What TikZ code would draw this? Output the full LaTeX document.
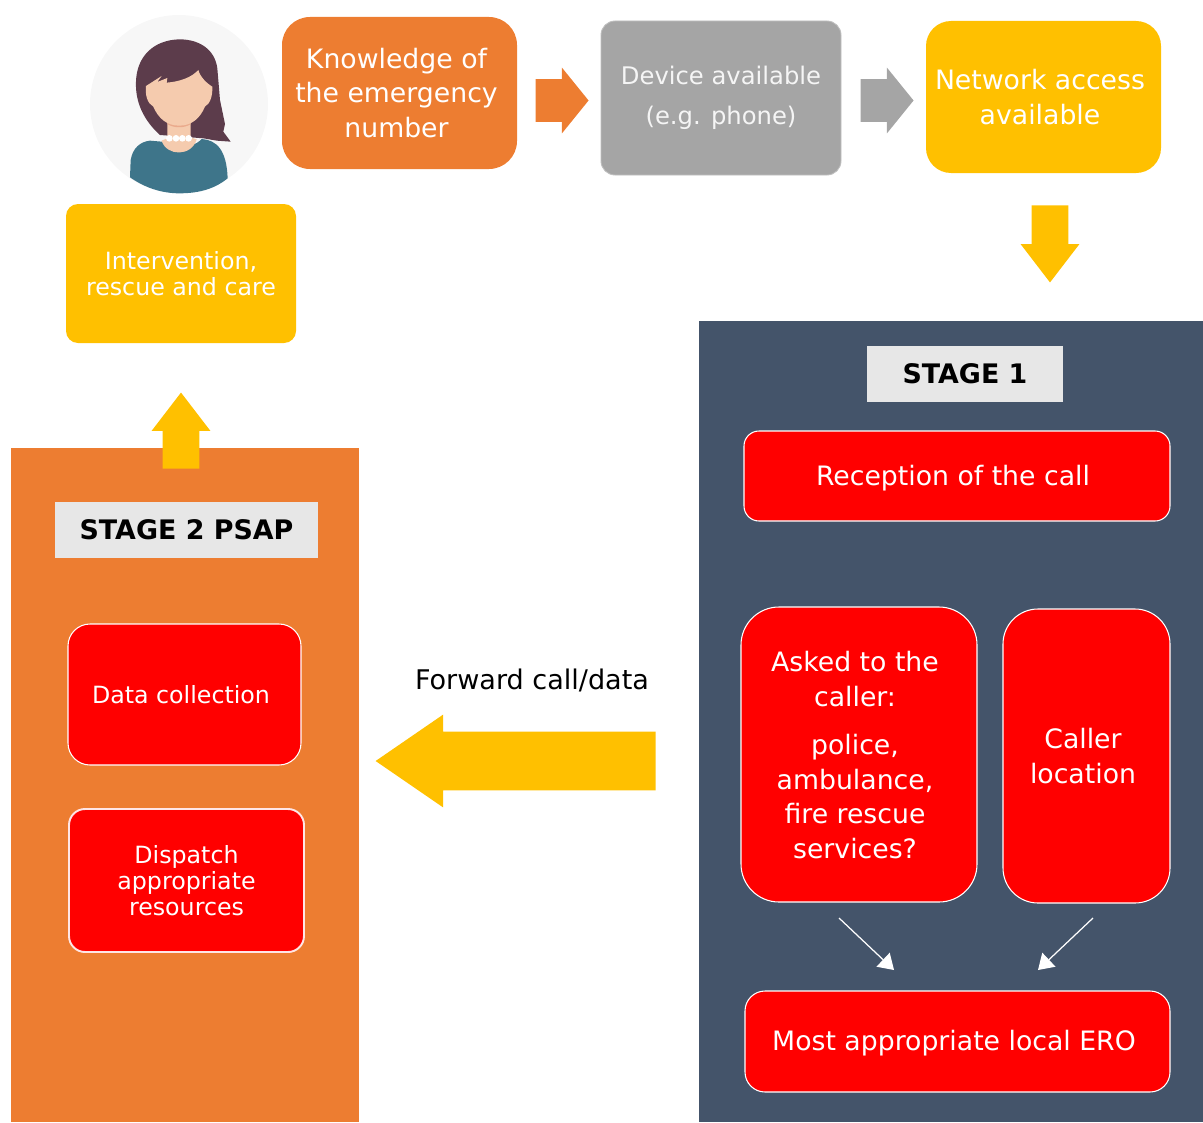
\documentclass[tikz,border=0pt]{standalone}
\usepackage{fontspec}
\setmainfont{DejaVu Sans}
\usetikzlibrary{arrows.meta,shapes.arrows}
\definecolor{orangefill}{HTML}{ED7D31}
\definecolor{yellowfill}{HTML}{FFC000}
\definecolor{slatefill}{HTML}{44546A}
\definecolor{grayfill}{HTML}{A5A5A5}
\definecolor{labelfill}{HTML}{E7E7E7}
\definecolor{hairfill}{RGB}{92,60,75}
\definecolor{shirtfill}{RGB}{62,117,138}
\definecolor{skinfill}{RGB}{245,203,174}
\definecolor{shadefill}{RGB}{234,170,140}
\newcommand{\px}{0.02cm}
\tikzset{
  box/.style={rounded corners=#1*\px, inner sep=0pt},
  redbox/.style={box=#1, fill=red, draw=white, line width=0.6pt},
  panel/.style={inner sep=0pt, anchor=north west},
  stagelabel/.style={fill=labelfill, inner sep=0pt, font=\fontsize{15.3}{19}\selectfont\bfseries},
  txt/.style={text=white, align=center, inner sep=0pt, font=\fontsize{15.2}{19.7}\selectfont},
  tighttxt/.style={text=white, align=center, inner sep=0pt, font=\fontsize{13.5}{14.8}\selectfont},
  blockarrow/.style={single arrow, single arrow head indent=0pt, inner sep=0pt, anchor=tip, fill=#1},
  sidearrow/.style={blockarrow=#1, inner ysep=21*\px, minimum height=53*\px, single arrow head extend=11.5*\px, single arrow tip angle=102},
  uparrow/.style={blockarrow=yellowfill, inner xsep=18*\px, single arrow head extend=11*\px, single arrow tip angle=75},
  thinarrow/.style={draw=white, line width=0.7pt, -{Triangle[length=15*\px, width=19*\px]}}
}
\begin{document}
\begin{tikzpicture}[x=\px, y=-\px]
\useasboundingbox (0,0) rectangle (1203,1122);
%panels
\node[panel, fill=slatefill, minimum width=504*\px, minimum height=801*\px] (stageone) at (699,321) {};
\node[panel, fill=orangefill, minimum width=348*\px, minimum height=674*\px] (stagetwo) at (11,448) {};
%person
\fill[black!3] (179,104) circle (89);
\begin{scope}[shift={(60,0)}, x=0.02cm/3, y=-0.02cm/3]
\fill[hairfill] (358,118) .. controls (420,118) and (465,150) .. (472,205) -- (480,300) -- (495,372) -- (490,395) -- (512,425) -- (470,422) -- (430,415) -- (300,405) .. controls (255,365) and (225,310) .. (228,245) .. controls (230,170) and (280,120) .. (358,118) -- cycle;
\fill[shirtfill] (210,532) -- (212,480) .. controls (218,445) and (240,425) .. (270,422) -- (305,425) .. controls (320,450) and (395,450) .. (425,417) .. controls (470,420) and (500,450) .. (503,535) .. controls (460,570) and (410,580) .. (358,580) .. controls (300,580) and (250,560) .. (210,532) -- cycle;
\fill[skinfill] (322,365) -- (322,415) -- (305,422) .. controls (320,470) and (395,470) .. (410,418) -- (392,412) -- (392,365) -- cycle;
\fill[shadefill] (322,365) -- (392,365) -- (392,372) .. controls (375,385) and (340,385) .. (322,372) -- cycle;
\fill[skinfill] (258,258) -- (305,228) -- (292,246) -- (322,234) -- (320,248) .. controls (360,245) and (395,232) .. (415,210) .. controls (420,230) and (440,250) .. (457,260) .. controls (458,285) and (452,310) .. (435,320) .. controls (420,355) and (395,377) .. (358,377) .. controls (320,377) and (295,355) .. (280,320) .. controls (262,310) and (255,285) .. (258,258) -- cycle;
\foreach \x in {328,348,367,386} {
  \fill[white] (\x,415) circle (10);
}
\end{scope}
%top row
\node[box=28, fill=orangefill, minimum width=235*\px, minimum height=152*\px, label={[txt, xshift=-3*\px]center:{Knowledge of\\the emergency\\number}}] (knowledge) at (399.5,93) {};
\node[box=14, fill=grayfill, draw=black!25, line width=0.5pt, minimum width=240*\px, minimum height=154*\px, label={[tighttxt, text=white!96!black, font=\fontsize{13.8}{22.5}\selectfont]center:{Device available\\(e.g. phone)}}] (device) at (721,98) {};
\node[box=25, fill=yellowfill, minimum width=235*\px, minimum height=152*\px, label={[txt, xshift=-3.5*\px]center:{Network access\\available}}] (network) at (1043.5,97) {};
\node[box=12, fill=yellowfill, minimum width=230*\px, minimum height=139*\px, label={[tighttxt, yshift=-0.5*\px]center:{Intervention,\\rescue and care}}] (intervention) at (181,273.5) {};
%block arrows
\node[sidearrow=orangefill] (arrowone) at (589,100.5) {};
\node[sidearrow=grayfill] (arrowtwo) at (914,100.5) {};
\node[uparrow, shape border rotate=270, minimum height=77*\px] (arrowdown) at (1050,283) {};
\node[uparrow, shape border rotate=90, minimum height=76*\px] (arrowup) at (181,392) {};
\node[blockarrow=yellowfill, shape border rotate=180, inner ysep=29*\px, minimum height=280*\px, single arrow head extend=17*\px, single arrow tip angle=69] (arrowleft) at (375,761) {};
%stage 2
\node[stagelabel, minimum width=263*\px, minimum height=56*\px] (labeltwo) at (186.5,530) {STAGE 2 PSAP};
\node[redbox=22, minimum width=233*\px, minimum height=141*\px, label={[tighttxt, xshift=-3.5*\px]center:{Data collection}}] (data) at (184.5,694.5) {};
\node[redbox=16, line width=1.1pt, draw=white!90!red, minimum width=235*\px, minimum height=143*\px, label={[tighttxt]center:{Dispatch\\appropriate\\resources}}] (dispatch) at (186.5,880.5) {};
%stage 1
\node[stagelabel, minimum width=196*\px, minimum height=56*\px] (labelone) at (965,374) {STAGE 1};
\node[redbox=15, minimum width=426*\px, minimum height=90*\px, label={[txt, xshift=-4*\px, yshift=-2*\px]center:{Reception of the call}}] (reception) at (957,476) {};
\node[redbox=38, minimum width=236*\px, minimum height=295*\px, label={[txt, xshift=-4*\px, yshift=-0.5*\px]center:{Asked to the\\caller:\\[8pt]police,\\ambulance,\\fire rescue\\services?}}] (asked) at (859,754.5) {};
\node[redbox=35, minimum width=167*\px, minimum height=294*\px, label={[txt, xshift=-3.5*\px]center:{Caller\\location}}] (caller) at (1086.5,756) {};
\node[redbox=20, minimum width=425*\px, minimum height=101*\px, label={[txt, xshift=-3.5*\px, yshift=-2*\px]center:{Most appropriate local ERO}}] (ero) at (957.5,1041.5) {};
%between the stages
\node[font=\fontsize{15.4}{19}\selectfont, inner sep=0pt] (forward) at (532,680) {Forward call/data};
%thin arrows
\coordinate (askedend) at (839,918);
\coordinate (callerend) at (1093,918);
\coordinate (eroleft) at (894,970);
\coordinate (eroright) at (1038,970);
\draw[thinarrow] (askedend) -- (eroleft);
\draw[thinarrow] (callerend) -- (eroright);
\end{tikzpicture}
\end{document}
